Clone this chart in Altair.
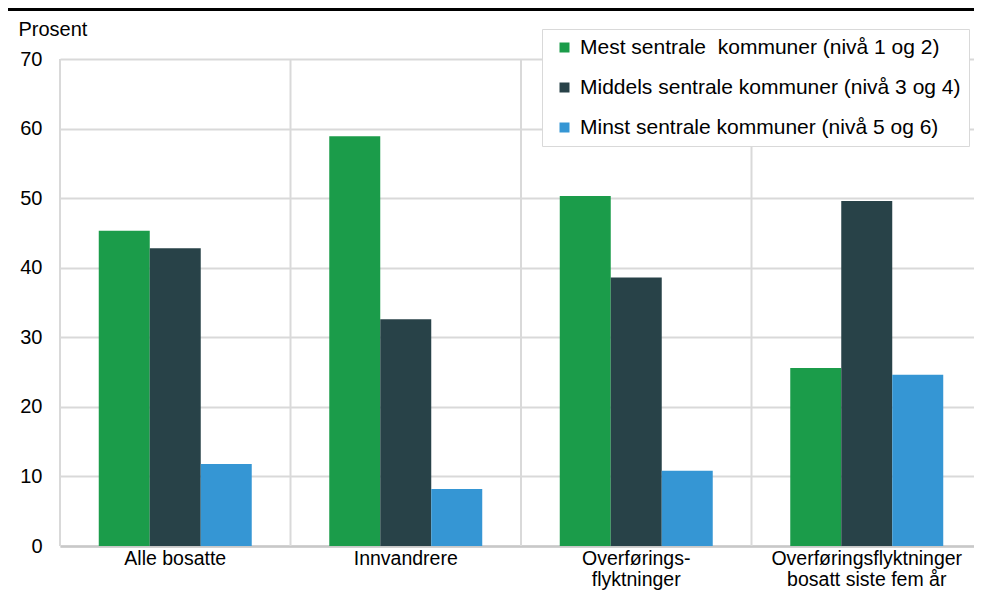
import altair as alt
import pandas as pd

categories = [
    "Alle bosatte",
    "Innvandrere",
    "Overførings-\nflyktninger",
    "Overføringsflyktninger\nbosatt siste fem år",
]
series = [
    "Mest sentrale\u00a0 kommuner (nivå 1 og 2)",
    "Middels sentrale kommuner (nivå 3 og 4)",
    "Minst sentrale kommuner (nivå 5 og 6)",
]
mest = [45.3, 58.9, 50.3, 25.6]
middels = [42.8, 32.6, 38.6, 49.6]
minst = [11.8, 8.2, 10.8, 24.6]
colors = ["#1b9c4a", "#284248", "#3596d4"]
y_ticks = [0, 10, 20, 30, 40, 50, 60, 70]

rows = []
for s, vals in zip(series, [mest, middels, minst]):
    for c, v in zip(categories, vals):
        rows.append({"cat": c, "series": s, "value": v})
df = pd.DataFrame(rows)

FONT = "Liberation Sans"
W, H = 922, 487

x_axis = alt.Axis(
    title=None, labelAngle=0, labelFontSize=19.5, labelFont=FONT, labelColor="black",
    labelExpr="split(datum.label, '\\n')", labelLineHeight=21, labelPadding=3,
    labelLimit=400, ticks=False, domainColor="#c8c8c8", domainWidth=2.5, grid=False,
)
x_scale = alt.Scale(paddingInner=0, paddingOuter=0)

grid = alt.Chart(pd.DataFrame({"cat": categories})).mark_rule(
    color="#d9d9d9", strokeWidth=2
).encode(
    x=alt.X("cat:N", sort=categories, bandPosition=0, scale=x_scale, axis=x_axis)
)

right_edge = alt.Chart(pd.DataFrame({"a": [0]})).mark_rule(
    color="#d9d9d9", strokeWidth=2
).encode(x=alt.value(W - 1))

top_line = alt.Chart(pd.DataFrame({"a": [0]})).mark_rule(
    color="black", strokeWidth=3
).encode(x=alt.value(-54), x2=alt.value(W), y=alt.value(-49.5))

bars = alt.Chart(df).mark_bar().encode(
    x=alt.X("cat:N", sort=categories, scale=x_scale, axis=x_axis),
    xOffset=alt.XOffset("series:N", sort=series,
                        scale=alt.Scale(paddingOuter=0.76, paddingInner=0)),
    y=alt.Y("value:Q",
            scale=alt.Scale(domain=[0, 70], nice=False),
            axis=alt.Axis(
                values=y_ticks, title="Prosent", titleAngle=0, titleAlign="left",
                titleBaseline="alphabetic", titleX=-42, titleY=-24,
                titleFontSize=20, titleFont=FONT, titleFontWeight="normal",
                titleColor="black",
                labelFontSize=20, labelFont=FONT, labelColor="black",
                labelPadding=18, ticks=False, domain=False,
                gridColor="#d9d9d9", gridWidth=2,
            )),
    color=alt.Color("series:N", sort=series,
                    scale=alt.Scale(domain=series, range=colors),
                    legend=alt.Legend(
                        orient="none", legendX=482, legendY=-30, title=None,
                        fillColor="white", strokeColor="#d9d9d9", padding=8,
                        labelFontSize=21, labelFont=FONT, labelColor="black",
                        symbolType="square", symbolSize=100, symbolStrokeWidth=0,
                        symbolOffset=4,
                        rowPadding=18, labelOffset=5, labelLimit=600,
                    )),
)

chart = alt.layer(grid, right_edge, bars, top_line).properties(
    width=W, height=H,
    autosize=alt.AutoSizeParams(type="none"),
    padding={"left": 52, "top": 51, "right": -8, "bottom": 45},
).configure_view(strokeWidth=0)

chart.save("out.html", embed_options={"renderer": "svg", "actions": False})
